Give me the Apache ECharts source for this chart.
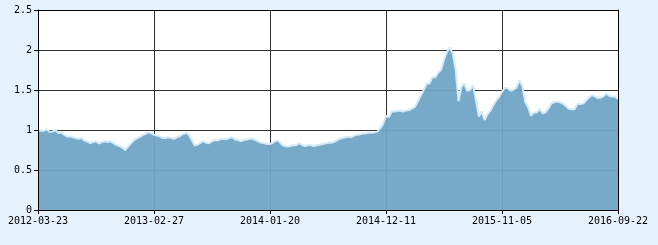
<!DOCTYPE html>
<html><head><meta charset="utf-8">
<script src="https://cdn.jsdelivr.net/npm/echarts@6/dist/echarts.min.js"></script>
<style>html,body{margin:0;padding:0;background:#e6f2fb;} #c{width:658px;height:245px;}</style>
</head><body><div id="c"></div>
<script>
// x-axis tick labels (dates), one every 40 points
const tickLabels = ['2012-03-23','2013-02-27','2014-01-20','2014-12-11','2015-11-05','2016-09-22'];
const perSegment = 40;
// y-axis range
const yMin = 0, yMax = 2.5, yStep = 0.5;
// series values, segment by segment
const seg1 = [0.99,0.99,0.99,1.01,0.975,0.98,1.0,0.96,0.97,0.94,
  0.92,0.92,0.91,0.90,0.89,0.90,0.87,0.855,0.835,0.85,
  0.86,0.83,0.85,0.86,0.85,0.86,0.835,0.815,0.80,0.78,
  0.75,0.79,0.83,0.87,0.895,0.91,0.935,0.95,0.97,0.96];
const seg2 = [0.94,0.93,0.92,0.90,0.90,0.91,0.90,0.89,0.91,0.925,
  0.95,0.965,0.94,0.875,0.81,0.815,0.84,0.86,0.84,0.835,
  0.86,0.875,0.87,0.885,0.89,0.885,0.90,0.91,0.88,0.875,
  0.86,0.875,0.88,0.89,0.89,0.875,0.855,0.84,0.835,0.825];
const seg3 = [0.825,0.84,0.865,0.865,0.82,0.80,0.795,0.80,0.81,0.81,
  0.835,0.815,0.80,0.81,0.815,0.80,0.81,0.815,0.825,0.83,
  0.84,0.84,0.85,0.87,0.89,0.90,0.91,0.915,0.91,0.93,
  0.94,0.945,0.955,0.96,0.965,0.965,0.97,0.98,1.02,1.075];
const seg4 = [1.175,1.16,1.23,1.23,1.24,1.24,1.23,1.245,1.25,1.27,
  1.29,1.36,1.43,1.5,1.58,1.58,1.66,1.66,1.72,1.75,
  1.88,1.975,2.03,1.96,1.76,1.36,1.54,1.58,1.49,1.5,
  1.56,1.375,1.17,1.23,1.125,1.20,1.24,1.31,1.37,1.41];
const seg5 = [1.48,1.53,1.52,1.49,1.505,1.53,1.625,1.55,1.35,1.285,
  1.18,1.22,1.22,1.26,1.21,1.22,1.27,1.33,1.35,1.355,
  1.345,1.33,1.30,1.265,1.26,1.26,1.325,1.325,1.33,1.37,
  1.405,1.435,1.42,1.40,1.405,1.42,1.455,1.425,1.42,1.42,
  1.385];
const values = [].concat(seg1, seg2, seg3, seg4, seg5);
const xMax = values.length - 1;

const chart = echarts.init(document.getElementById('c'), null, {renderer: 'canvas'});
const font = {fontFamily: 'DejaVu Sans Mono', fontSize: 10, color: '#000'};
const lineOnly = (extra) => Object.assign({
  type: 'value', show: true,
  axisLine: {show: true, onZero: false, lineStyle: {color: '#000', width: 1}},
  axisTick: {show: false}, axisLabel: {show: false}, splitLine: {show: false}, z: 10
}, extra);

chart.setOption({
  backgroundColor: '#e6f2fb',
  animation: false,
  grid: {left: 38, right: 40, top: 10, bottom: 35, show: true, backgroundColor: '#fff', borderWidth: 0},
  xAxis: [
    {type: 'value', min: 0, max: xMax, interval: perSegment, position: 'bottom',
     axisLine: {show: false},
     axisTick: {show: true, length: 4, lineStyle: {color: '#000'}},
     axisLabel: Object.assign({}, font, {margin: 6, showMinLabel: true, showMaxLabel: true,
       formatter: v => tickLabels[Math.round(v / perSegment)] || ''}),
     splitLine: {show: true, lineStyle: {color: '#333', width: 1}}},
    lineOnly({min: 0, max: xMax, position: 'bottom'}),
    lineOnly({min: 0, max: xMax, position: 'top'})
  ],
  yAxis: [
    {type: 'value', min: yMin, max: yMax, interval: yStep, position: 'left',
     axisLine: {show: false},
     axisTick: {show: true, length: 4, lineStyle: {color: '#000'}},
     axisLabel: Object.assign({}, font, {margin: 6}),
     splitLine: {show: true, lineStyle: {color: '#333', width: 1}}},
    lineOnly({min: yMin, max: yMax, position: 'left'}),
    lineOnly({min: yMin, max: yMax, position: 'right'})
  ],
  series: [{
    type: 'line', xAxisIndex: 0, yAxisIndex: 0,
    data: values.map((v, i) => [i, v]),
    symbol: 'none', showSymbol: false,
    lineStyle: {color: '#d4eaf8', width: 2},
    areaStyle: {color: '#6ea5c5', opacity: 0.94},
    z: 2
  }]
});
</script>
</body></html>
